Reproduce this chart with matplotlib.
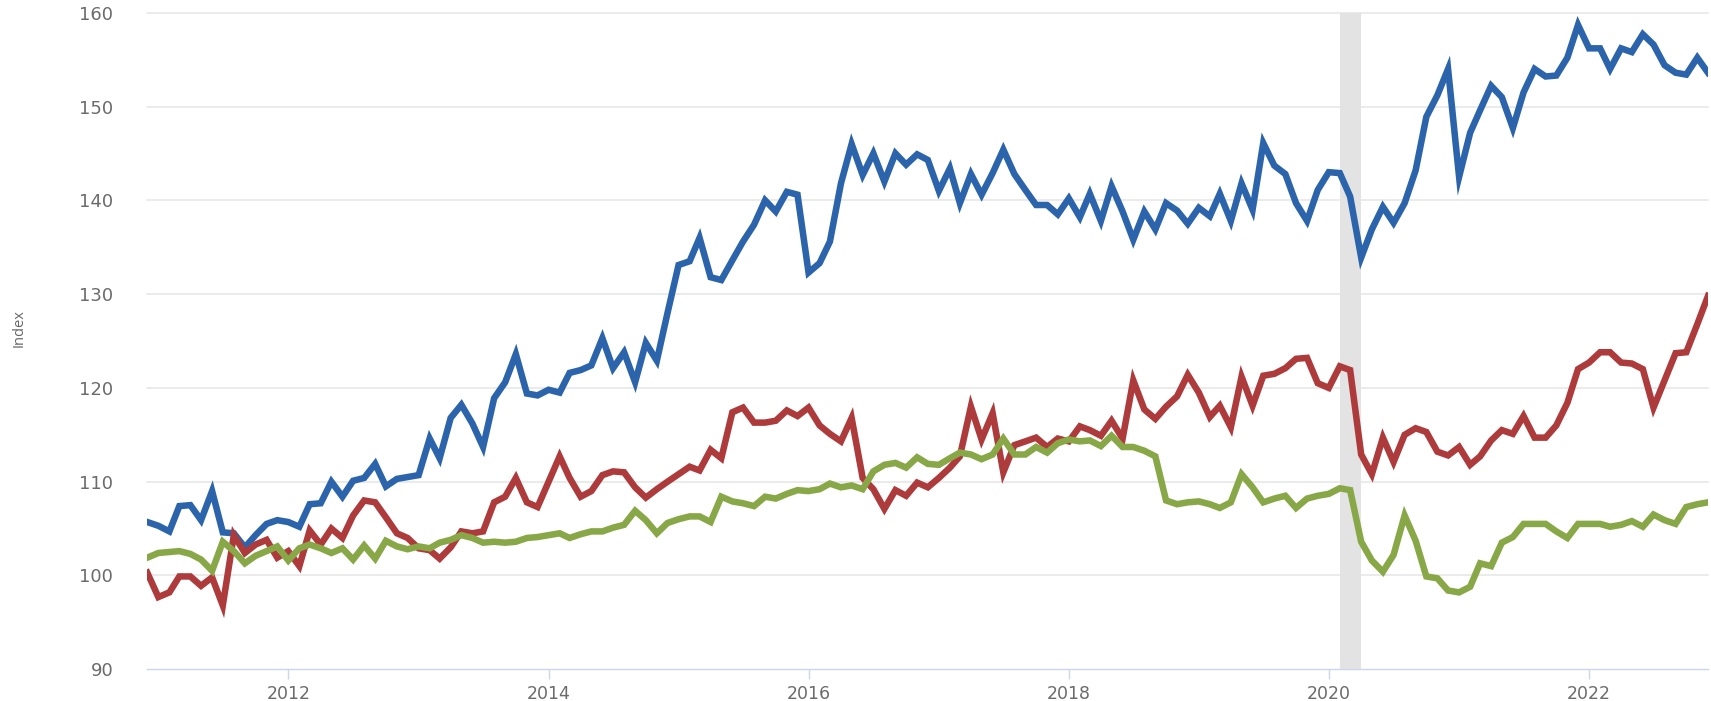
import matplotlib
matplotlib.use("Agg")
import matplotlib.pyplot as plt
import matplotlib.dates as mdates
import pandas as pd

# ---- data (monthly, Dec 2010 .. Dec 2022) ----
start_month = "2010-12-01"
n_months = 145

blue_values = [
    105.7, 105.3, 104.7, 107.4, 107.5, 105.9, 109.0, 104.6, 104.5, 103.0,
    104.3, 105.5, 105.9, 105.7, 105.2, 107.6, 107.7, 110.0, 108.4, 110.1,
    110.4, 111.9, 109.5, 110.3, 110.5, 110.7, 114.6, 112.5, 116.8, 118.2,
    116.2, 113.7, 118.9, 120.6, 123.6, 119.4, 119.2, 119.8, 119.5, 121.6,
    121.9, 122.4, 125.3, 122.1, 123.8, 120.6, 124.8, 122.9, 128.0, 133.1,
    133.5, 136.0, 131.8, 131.5, 133.6, 135.6, 137.4, 140.0, 138.8, 140.9,
    140.6, 132.3, 133.3, 135.6, 141.8, 146.0, 142.7, 145.0, 142.0, 145.0,
    143.8, 144.9, 144.3, 141.0, 143.4, 139.7, 142.8, 140.6, 142.9, 145.4,
    142.8, 141.1, 139.5, 139.5, 138.5, 140.2, 138.2, 140.7, 137.8, 141.5,
    138.8, 135.8, 138.8, 136.9, 139.7, 138.9, 137.5, 139.2, 138.3, 140.7,
    137.8, 141.8, 139.0, 146.1, 143.7, 142.8, 139.7, 137.8, 141.1, 143.0,
    142.9, 140.4, 133.9, 136.9, 139.3, 137.6, 139.7, 143.2, 148.9, 151.2,
    154.0, 142.5, 147.2, 149.6, 152.2, 151.0, 147.7, 151.5, 154.0, 153.2,
    153.3, 155.2, 158.7, 156.2, 156.2, 154.0, 156.2, 155.8, 157.7, 156.6,
    154.4, 153.6, 153.4, 155.2, 153.6,
]

red_values = [
    100.3, 97.7, 98.2, 99.9, 99.9, 98.9, 99.8, 96.8, 104.3, 102.4,
    103.3, 103.8, 101.9, 102.6, 101.0, 104.8, 103.3, 105.0, 104.0, 106.4,
    108.0, 107.8, 106.2, 104.5, 104.0, 102.9, 102.7, 101.8, 103.0, 104.7,
    104.5, 104.7, 107.8, 108.4, 110.4, 107.8, 107.3, 110.0, 112.7, 110.4,
    108.4, 109.0, 110.7, 111.1, 111.0, 109.4, 108.3, 109.2, 110.0, 110.8,
    111.6, 111.2, 113.4, 112.5, 117.4, 117.9, 116.3, 116.3, 116.5, 117.6,
    117.0, 117.9, 116.0, 115.1, 114.3, 116.8, 110.4, 109.2, 107.1, 109.1,
    108.5, 109.9, 109.4, 110.4, 111.5, 112.7, 118.0, 114.5, 117.3, 111.0,
    113.9, 114.3, 114.7, 113.7, 114.6, 114.3, 115.9, 115.5, 114.9, 116.5,
    114.6, 120.8, 117.7, 116.7, 118.0, 119.1, 121.4, 119.5, 116.9, 118.1,
    115.8, 121.2, 118.1, 121.3, 121.5, 122.1, 123.1, 123.2, 120.5, 120.0,
    122.3, 121.9, 112.9, 110.8, 114.7, 112.1, 115.0, 115.7, 115.3, 113.2,
    112.8, 113.7, 111.8, 112.7, 114.4, 115.5, 115.1, 117.0, 114.7, 114.7,
    116.0, 118.4, 122.0, 122.7, 123.8, 123.8, 122.7, 122.6, 122.0, 117.9,
    120.8, 123.7, 123.8, 126.8, 129.8,
]

green_values = [
    101.9, 102.4, 102.5, 102.6, 102.3, 101.7, 100.5, 103.6, 102.6, 101.3,
    102.1, 102.6, 103.1, 101.6, 102.9, 103.3, 102.9, 102.4, 102.9, 101.7,
    103.2, 101.8, 103.7, 103.1, 102.8, 103.1, 102.9, 103.5, 103.8, 104.3,
    104.0, 103.5, 103.6, 103.5, 103.6, 104.0, 104.1, 104.3, 104.5, 104.0,
    104.4, 104.7, 104.7, 105.1, 105.4, 106.9, 105.9, 104.5, 105.6, 106.0,
    106.3, 106.3, 105.7, 108.4, 107.9, 107.7, 107.4, 108.4, 108.2, 108.7,
    109.1, 109.0, 109.2, 109.8, 109.4, 109.6, 109.2, 111.1, 111.8, 112.0,
    111.5, 112.6, 111.9, 111.8, 112.5, 113.1, 112.9, 112.4, 112.9, 114.6,
    112.9, 112.9, 113.7, 113.1, 114.1, 114.5, 114.3, 114.4, 113.8, 114.9,
    113.7, 113.7, 113.3, 112.7, 108.0, 107.6, 107.8, 107.9, 107.6, 107.2,
    107.8, 110.8, 109.4, 107.8, 108.2, 108.5, 107.2, 108.2, 108.5, 108.7,
    109.3, 109.1, 103.6, 101.6, 100.4, 102.2, 106.4, 103.7, 99.9, 99.7,
    98.4, 98.2, 98.8, 101.3, 101.0, 103.5, 104.1, 105.5, 105.5, 105.5,
    104.7, 104.0, 105.5, 105.5, 105.5, 105.2, 105.4, 105.8, 105.2, 106.5,
    105.9, 105.5, 107.3, 107.6, 107.8,
]

recession_start = "2020-02-01"
recession_end = "2020-04-01"

y_ticks = [90, 100, 110, 120, 130, 140, 150, 160]
x_tick_years = [2012, 2014, 2016, 2018, 2020, 2022]
y_label = "Index"

# ---- figure ----
dates = pd.date_range(start_month, periods=n_months, freq="MS")
W, H = 1711, 701
fig = plt.figure(figsize=(W / 100, H / 100), dpi=100)
fig.patch.set_facecolor("white")

left, right = 147.3, 1708.0
top, bottom = 12.7, 669.3
ax = fig.add_axes([left / W, (H - bottom) / H, (right - left) / W, (bottom - top) / H])
ax.set_facecolor("white")

ax.set_xlim(dates[0], dates[-1])
ax.set_ylim(y_ticks[0], y_ticks[-1])

# grid lines
for yv in y_ticks[1:]:
    ax.axhline(yv, color="#e6e6e6", lw=1.1, zorder=0, clip_on=False)

# recession shading
ax.axvspan(pd.Timestamp(recession_start), pd.Timestamp(recession_end),
           color="#e3e3e3", lw=0, zorder=0.5)

lw = 4.7
ax.plot(dates, blue_values, color="#2c64ab", lw=lw, solid_joinstyle="miter", zorder=2)
ax.plot(dates, red_values, color="#ae3b3c", lw=lw, solid_joinstyle="miter", zorder=3)
ax.plot(dates, green_values, color="#88a848", lw=lw, solid_joinstyle="miter", zorder=4)

for s in ["top", "right", "left"]:
    ax.spines[s].set_visible(False)
ax.spines["bottom"].set_color("#ccd6eb")
ax.spines["bottom"].set_linewidth(1.0)

ax.set_yticks(y_ticks)
ax.set_yticklabels([str(v) for v in y_ticks])
ax.tick_params(axis="y", length=0, pad=24.5, labelsize=13, labelcolor="#6b6b6b")
for t in ax.get_yticklabels():
    t.set_fontfamily("DejaVu Sans")

ax.set_xticks([pd.Timestamp(f"{y}-01-01") for y in x_tick_years])
ax.set_xticklabels([str(y) for y in x_tick_years])
ax.tick_params(axis="x", length=7.2, width=1.0, color="#ccd6eb", pad=4,
               labelsize=12.5, labelcolor="#6b6b6b")
for t in ax.get_xticklabels():
    t.set_fontfamily("DejaVu Sans")

fig.text(19 / W, 1 - 328 / H, y_label, rotation=90, ha="center", va="center",
         fontsize=10.5, color="#666666", family="Open Sans")

fig.savefig("out.png", dpi=100, facecolor="white")
